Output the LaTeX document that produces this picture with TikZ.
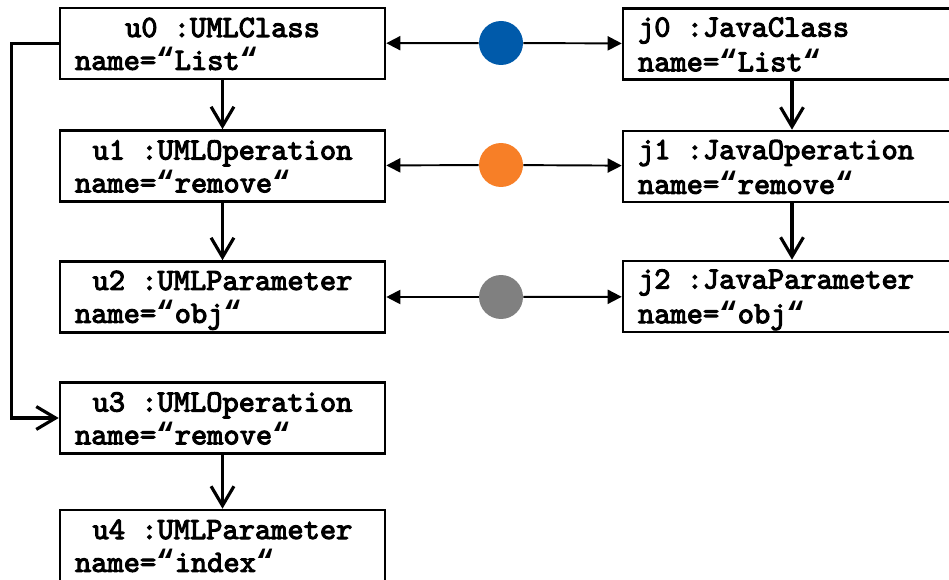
\documentclass[tikz,border=0pt]{standalone}
\usepackage{fontspec}
\newfontfamily\umlfont{lmmono10-regular.otf}[AutoFakeBold=3.4]
\newfontfamily\qfont{Liberation Mono}
\usetikzlibrary{arrows.meta}
\definecolor{dotblue}{HTML}{005AAA}
\definecolor{dotorange}{HTML}{F77F27}
\definecolor{dotgray}{HTML}{808080}
\newcommand{\ls}{\rule[-3.4pt]{0pt}{18.1pt}}
\newcommand{\gap}{\hphantom{0}}
\newcommand{\qm}{{\qfont\bfseries “}}
\tikzset{
  obj/.style={draw, line width=1.5pt, minimum height=1.42cm, inner xsep=0.3cm, inner ysep=0pt,
    align=left, font=\umlfont\bfseries\fontsize{17.6}{18.7}\selectfont},
  uml/.style={obj, text width=5.9cm},
  java/.style={obj, text width=6.16cm},
  dot/.style={circle, inner sep=0pt, minimum size=0.88cm},
  link/.style={-{Triangle[length=8pt,width=8pt]}, line width=1.1pt},
  owns/.style={-{Straight Barb[length=11pt,width=13pt]}, line width=1.8pt},
}
\begin{document}
\begin{tikzpicture}[x=0.02cm,y=-0.02cm]
\useasboundingbox (0,0) rectangle (949,580);
% UML side
\node[uml] (u0) at (222.5,43.5) {\ls\makebox[\linewidth]{u0\gap:UMLClass}\\\ls name=\qm List\qm};
\node[uml] (u1) at (222.5,166) {\ls\makebox[\linewidth]{u1\gap:UMLOperation}\\\ls name=\qm remove\qm};
\node[uml] (u2) at (222.5,297) {\ls\makebox[\linewidth]{u2\gap:UMLParameter}\\\ls name=\qm obj\qm};
\node[uml] (u3) at (222.5,418) {\ls\makebox[\linewidth]{u3\gap:UMLOperation}\\\ls name=\qm remove\qm};
\node[uml] (u4) at (222.5,545.5) {\ls\makebox[\linewidth]{u4\gap:UMLParameter}\\\ls name=\qm index\qm};
% Java side
\node[java] (j0) at (792,44) {\ls j0\gap:JavaClass\\\ls name=\qm List\qm};
\node[java] (j1) at (792,166.5) {\ls j1\gap:JavaOperation\\\ls name=\qm remove\qm};
\node[java] (j2) at (792,296.5) {\ls j2\gap:JavaParameter\\\ls name=\qm obj\qm};
% matches
\node[dot, fill=dotblue] (m0) at (501,43) {};
\node[dot, fill=dotorange] (m1) at (501,165) {};
\node[dot, fill=dotgray] (m2) at (501,297) {};
\draw[link] (m0) -- (u0);
\draw[link] (m0) -- (j0);
\draw[link] (m1) -- (u1);
\draw[link] (m1) -- (j1);
\draw[link] (m2) -- (u2);
\draw[link] (m2) -- (j2);
% containment
\draw[owns] (u0) -- (u1);
\draw[owns] (u1) -- (u2);
\draw[owns] (u3) -- (u4);
\draw[owns] (j0) -- (j1);
\draw[owns] (j1) -- (j2);
\draw[owns] (u0.west) -- ++(-47,0) |- (u3.west);
\end{tikzpicture}
\end{document}
